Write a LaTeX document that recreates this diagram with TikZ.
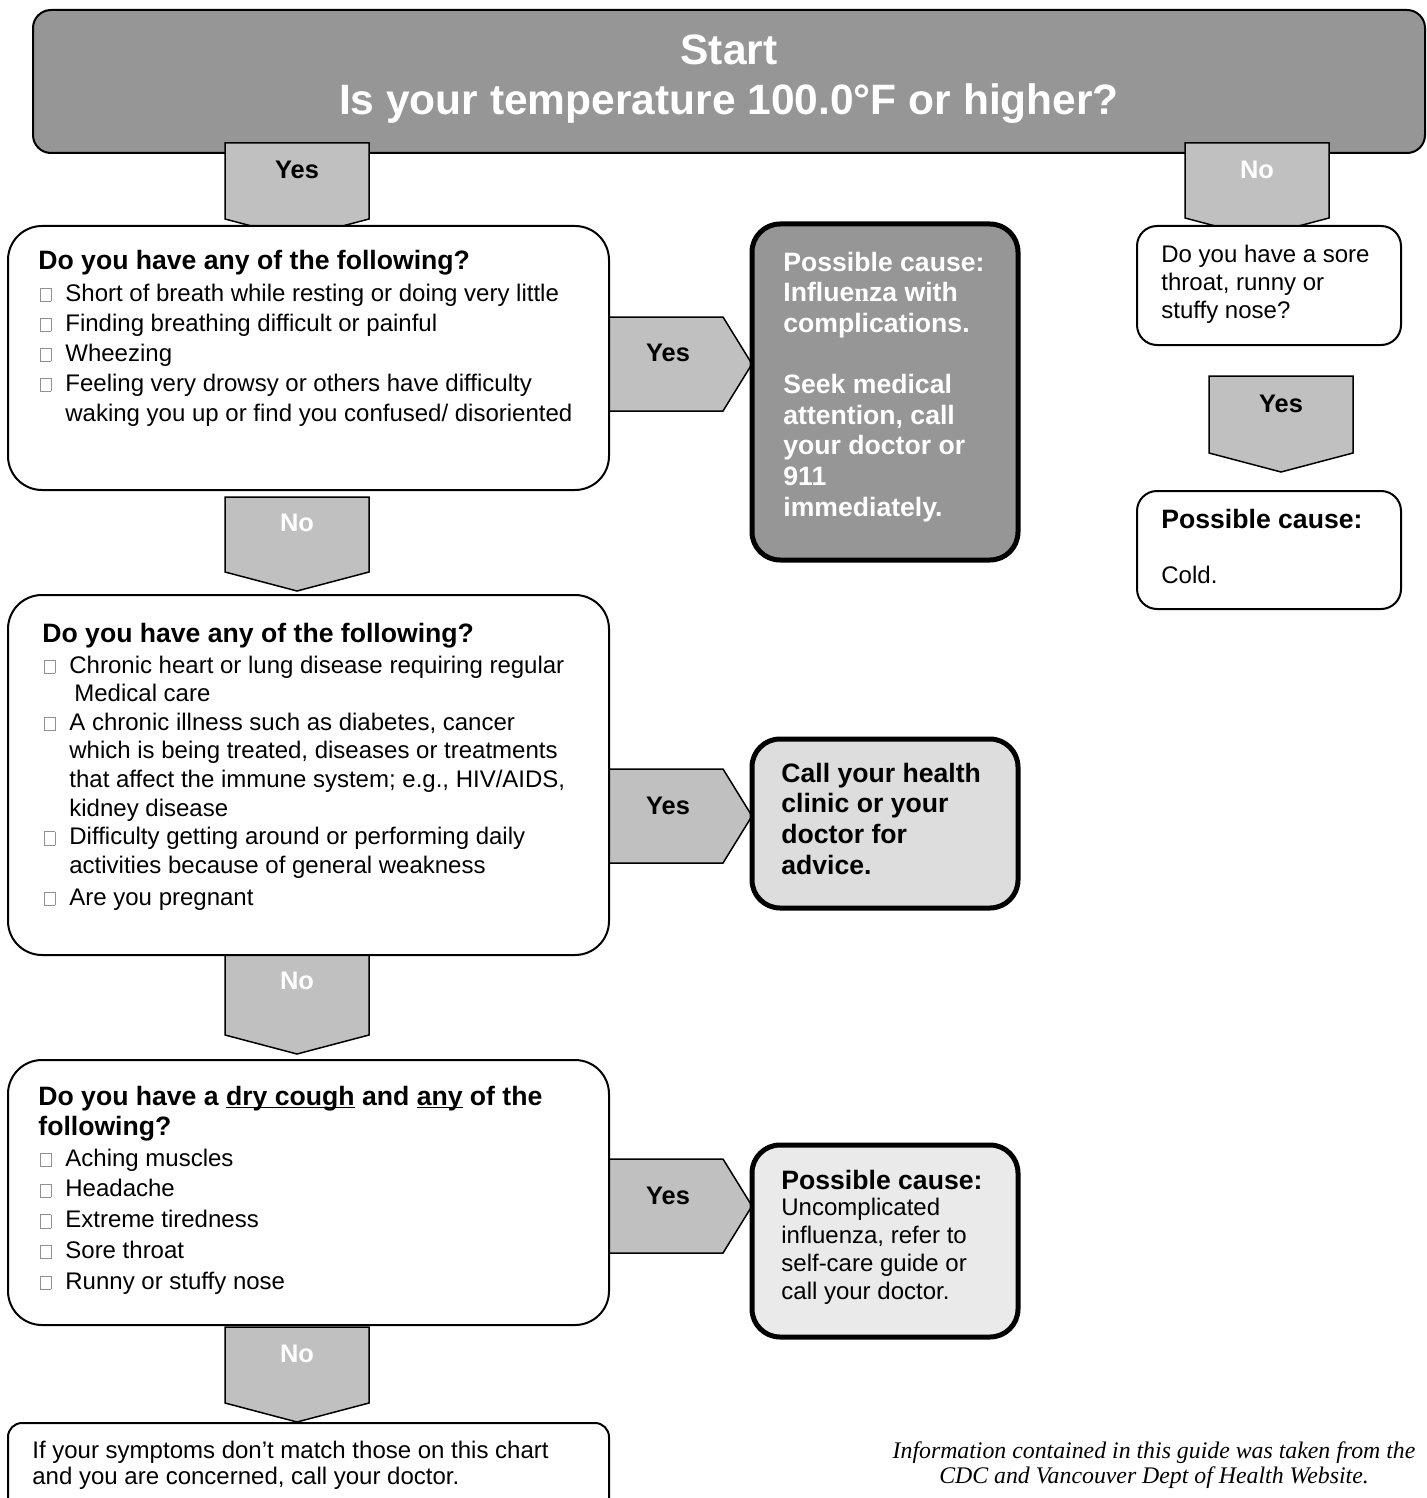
\documentclass[tikz,border=0pt]{standalone}
\usepackage{fontspec}
\setmainfont{Liberation Sans}
\newfontfamily\timesfont{Liberation Serif}
\usepackage{tikz}

\definecolor{hdrgray}{HTML}{969696}
\definecolor{tabgray}{HTML}{C0C0C0}
\definecolor{callgray}{HTML}{DDDDDD}
\definecolor{uncgray}{HTML}{EAEAEA}
\definecolor{ckgray}{HTML}{909090}

% empty tick box in front of the list items
\newcommand{\ckbox}{\makebox[13.5pt][l]{\hspace{0.8pt}{\color{ckgray}\setlength{\fboxsep}{0pt}\setlength{\fboxrule}{0.45pt}\fbox{\rule{0pt}{6.2pt}\rule{4.8pt}{0pt}}}}}
\newcommand{\ind}{\hspace*{13.5pt}}
% underline close to the baseline
\newcommand{\ulword}[1]{\setbox0\hbox{#1}\rlap{\rule[-1.6pt]{\wd0}{0.8pt}}\box0\relax}
% #1 = left x, #2 = top y, #3 = length of the sides
\newcommand{\downtab}[3]{\draw[tab] (#1,#2) -- ++(144,0) -- ++(0,#3) -- ++(-72,19) -- ++(-72,-19) -- cycle;}
% #1 = left x, #2 = top y
\newcommand{\righttab}[2]{\draw[tab] (#1,#2) -- ++(114,0) -- ++(29,47) -- ++(-29,47) -- ++(-114,0) -- cycle;}

\begin{document}
\begin{tikzpicture}[x=0.5pt,y=-0.5pt]
	\tikzstyle{hdr}=[draw,rectangle,rounded corners=9pt,line width=1pt,fill=hdrgray,inner sep=0pt]
	\tikzstyle{qbox}=[draw,rectangle,rounded corners=17pt,line width=1pt,fill=white,inner sep=0pt]
	\tikzstyle{sbox}=[draw,rectangle,rounded corners=10pt,line width=1pt,fill=white,inner sep=0pt]
	\tikzstyle{cbox}=[draw,rectangle,rounded corners=14pt,line width=2.5pt,inner sep=0pt]
	\tikzstyle{tab}=[draw,fill=tabgray,line width=0.75pt]
	% multi-line texts sit on the baseline of their last line
	\tikzstyle{txt}=[anchor=base west,inner sep=0pt,align=left,font=\fontsize{12}{15}\selectfont]
	\tikzstyle{boldtxt}=[txt,font=\fontsize{13.3}{15.3}\selectfont\bfseries]
	\tikzstyle{yeslab}=[inner sep=0pt,font=\fontsize{12.7}{15}\selectfont\bfseries]
	\tikzstyle{nolab}=[yeslab,text=white]

	\useasboundingbox (0,0) rectangle (1427,1498);
	\clip (0,0) rectangle (1427,1498);

	\node[hdr,minimum width=696pt,minimum height=71.5pt](start) at (729,81.5){};
	\node[anchor=base,align=center,inner sep=0pt,text=white,font=\fontsize{21.25}{25}\selectfont\bfseries](starttxt) at (729,115){Start\\Is your temperature 100.0°F or higher?};

	\downtab{225}{143}{76}
	\downtab{1185}{143}{75}
	\downtab{225}{497}{75}
	\downtab{225}{955}{80}
	\downtab{225}{1327}{76}
	\downtab{1209}{376}{77}
	\righttab{609}{317}
	\righttab{609}{769}
	\righttab{609}{1159}

	% left column
	\node[qbox,minimum width=300.5pt,minimum height=132pt](q1) at (308.5,358){};
	\node[boldtxt](q1head) at (38,270){Do you have any of the following?};
	\node[txt](q1list) at (38,421){\ckbox Short of breath while resting or doing very little\\
		\ckbox Finding breathing difficult or painful\\
		\ckbox Wheezing\\
		\ckbox Feeling very drowsy or others have difficulty\\
		\ind waking you up or find you confused/ disoriented};

	\node[qbox,minimum width=300.5pt,minimum height=180pt](q2) at (308.5,775){};
	\node[boldtxt](q2head) at (42,642){Do you have any of the following?};
	\node[txt,font=\fontsize{12}{14.3}\selectfont](q2list) at (42,905){\ckbox Chronic heart or lung disease requiring regular\\
		\hspace*{16pt}Medical care\\
		\ckbox A chronic illness such as diabetes, cancer\\
		\ind which is being treated, diseases or treatments\\
		\ind that affect the immune system; e.g., HIV/AIDS,\\
		\ind kidney disease\\
		\ckbox Difficulty getting around or performing daily\\
		\ind activities because of general weakness\\[1.6pt]
		\ckbox Are you pregnant};

	\node[qbox,minimum width=300.5pt,minimum height=132.5pt](q3) at (308.5,1192.5){};
	\node[boldtxt,font=\fontsize{13.3}{15}\selectfont\bfseries](q3head) at (38,1135){Do you have a \ulword{dry cough} and \ulword{any} of the\\following?};
	\node[txt,font=\fontsize{12}{15.35}\selectfont](q3list) at (38,1289){\ckbox Aching muscles\\
		\ckbox Headache\\
		\ckbox Extreme tiredness\\
		\ckbox Sore throat\\
		\ckbox Runny or stuffy nose};

	\node[qbox,rounded corners=7pt,minimum width=300.5pt,minimum height=46pt](e1) at (308.5,1469){};
	\node[txt,font=\fontsize{12}{13}\selectfont](e1txt) at (32,1484){If your symptoms don’t match those on this chart\\and you are concerned, call your doctor.};

	% middle column
	\node[cbox,fill=hdrgray,minimum width=133pt,minimum height=168pt](c1) at (885,392){};
	\node[boldtxt,text=white](c1txt) at (783,516){Possible cause:\\Influe{\timesfont n}za with\\complications.\\[15.3pt]Seek medical\\attention, call\\your doctor or\\911\\immediately.};

	\node[cbox,fill=callgray,minimum width=133pt,minimum height=84.5pt](c2) at (885,823.5){};
	\node[boldtxt](c2txt) at (781,874){Call your health\\clinic or your\\doctor for\\advice.};

	\node[cbox,fill=uncgray,minimum width=133pt,minimum height=96pt](c3) at (885,1241){};
	\node[boldtxt](c3head) at (781,1189){Possible cause:};
	\node[txt,font=\fontsize{12}{13.85}\selectfont](c3list) at (781,1299){Uncomplicated\\influenza, refer to\\self-care guide or\\call your doctor.};

	% right column
	\node[sbox,minimum width=132pt,minimum height=59.5pt](s1) at (1269,285.5){};
	\node[txt,font=\fontsize{12}{14}\selectfont](s1txt) at (1161,318){Do you have a sore\\throat, runny or\\stuffy nose?};

	\node[sbox,minimum width=132pt,minimum height=59pt](s2) at (1269,550){};
	\node[boldtxt](s2head) at (1161,528){Possible cause:};
	\node[txt](s2txt) at (1161,583){Cold.};

	\node[yeslab](y0) at (297,170){Yes};
	\node[nolab](n0) at (1257,170){No};
	\node[yeslab](y1) at (668,353){Yes};
	\node[nolab](n1) at (297,523){No};
	\node[yeslab](y2) at (668,806){Yes};
	\node[nolab](n2) at (297,981){No};
	\node[yeslab](y3) at (668,1196){Yes};
	\node[nolab](n3) at (297,1354){No};
	\node[yeslab](y4) at (1281,404){Yes};

	\node[anchor=base,align=center,inner sep=0pt,font=\timesfont\itshape\fontsize{11.9}{12.5}\selectfont](note) at (1154,1483){Information contained in this guide was taken from the\\CDC and Vancouver Dept of Health Website.};
\end{tikzpicture}
\end{document}
